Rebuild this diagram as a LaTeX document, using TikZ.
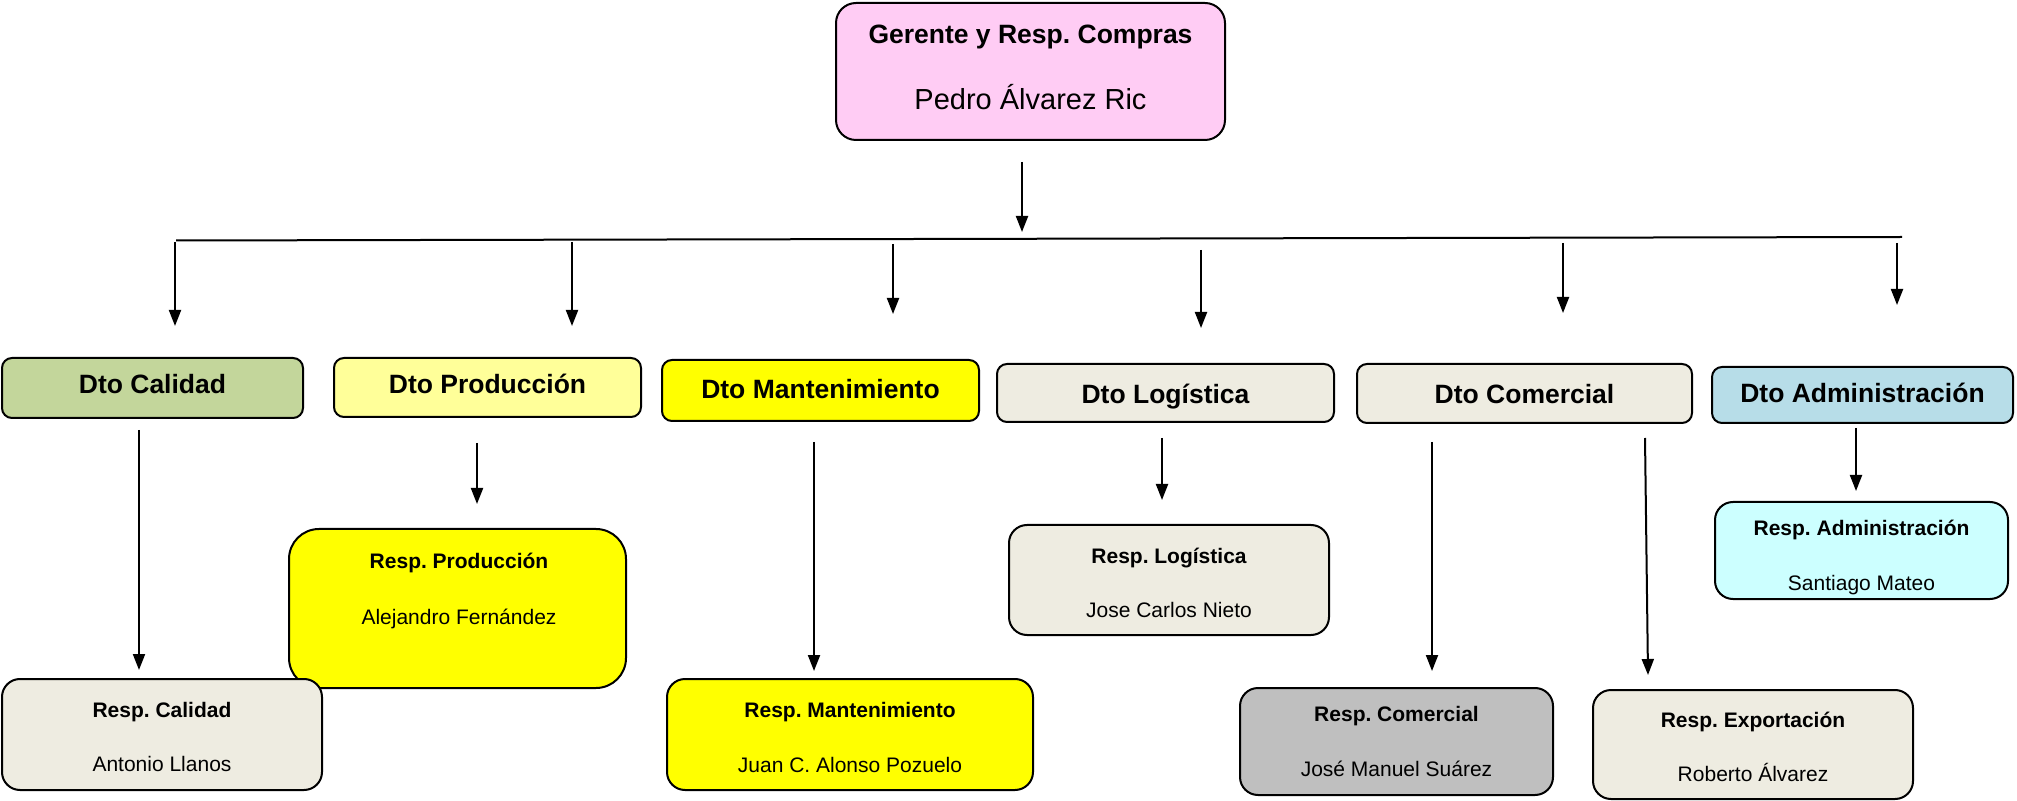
\documentclass[tikz,border=0pt]{standalone}
\usepackage{fontspec}
\setmainfont{Liberation Sans}
\usetikzlibrary{arrows.meta,fit}
\definecolor{cpink}{HTML}{FFCCF4}
\definecolor{cgreen}{HTML}{C3D69B}
\definecolor{clyel}{HTML}{FFFF99}
\definecolor{cyel}{HTML}{FFFF00}
\definecolor{cbeige}{HTML}{EEECE1}
\definecolor{cblue}{HTML}{B7DDE8}
\definecolor{cgray}{HTML}{BFBFBF}
\definecolor{ccyan}{HTML}{CCFFFF}
\frenchspacing
\begin{document}
\begin{tikzpicture}[x=0.5pt,y=-0.5pt,
  bx/.style={draw=black, line width=1pt, inner sep=0pt},
  dto/.style={bx, rounded corners=5pt},
  resp/.style={bx, rounded corners=9pt},
  hd/.style={font=\bfseries\fontsize{13.25}{15}\selectfont, anchor=base, inner sep=0pt},
  big/.style={font=\fontsize{14.5}{17}\selectfont, anchor=base, inner sep=0pt},
  rp/.style={font=\bfseries\fontsize{10.5}{12}\selectfont, anchor=base, inner sep=0pt},
  nm/.style={font=\fontsize{10.5}{12}\selectfont, anchor=base, inner sep=0pt},
  arr/.style={line width=1pt, -{Triangle[width=6pt,length=8pt]}},
  ln/.style={line width=1pt}]
\useasboundingbox (0,0) rectangle (2017,801);

% top box
\node[bx, rounded corners=10pt, fill=cpink, fit={(836,3) (1225,140)}] (top) {};
\node[hd] (topT) at (1030.5,44) {Gerente y Resp. Compras};
\node[big] (topN) at (1030.5,109.5) {Pedro Álvarez Ric};

% department boxes
\node[dto, fill=cgreen, fit={(2,358) (303,418)}] (cal) {};
\node[hd] (calT) at (152.5,394) {Dto Calidad};
\node[dto, fill=clyel, fit={(334,358) (641,417)}] (prod) {};
\node[hd] (prodT) at (487.5,394) {Dto Producción};
\node[dto, fill=cyel, fit={(662,360) (979,421)}] (mant) {};
\node[hd] (mantT) at (820.5,399) {Dto Mantenimiento};
\node[dto, fill=cbeige, fit={(997,364) (1334,422)}] (log) {};
\node[hd] (logT) at (1165.5,404) {Dto Logística};
\node[dto, fill=cbeige, fit={(1357,364) (1692,423)}] (com) {};
\node[hd] (comT) at (1524.5,404) {Dto Comercial};
\node[dto, fill=cblue, fit={(1712,367) (2013,423)}] (adm) {};
\node[hd] (admT) at (1862.5,403) {Dto Administración};

% responsible boxes
\node[bx, rounded corners=15pt, fill=cyel, fit={(289,529) (626,688)}] (rprod) {};
\node[rp] (rprodT) at (459,568.5) {Resp. Producción};
\node[nm] (rprodN) at (459,624.5) {Alejandro Fernández};
\node[resp, fill=cbeige, fit={(2,679) (322,790)}] (rcal) {};
\node[rp] (rcalT) at (162,717.5) {Resp. Calidad};
\node[nm] (rcalN) at (162,771.5) {Antonio Llanos};
\node[resp, fill=cyel, fit={(667,679) (1033,790)}] (rmant) {};
\node[rp] (rmantT) at (850,717) {Resp. Mantenimiento};
\node[nm] (rmantN) at (850,772.6) {Juan C. Alonso Pozuelo};
\node[resp, fill=cbeige, fit={(1009,525) (1329,635)}] (rlog) {};
\node[rp] (rlogT) at (1169,563) {Resp. Logística};
\node[nm] (rlogN) at (1169,617) {Jose Carlos Nieto};
\node[resp, fill=cgray, fit={(1240,688) (1553,795)}] (rcom) {};
\node[rp] (rcomT) at (1396.5,721) {Resp. Comercial};
\node[nm] (rcomN) at (1396.5,776.5) {José Manuel Suárez};
\node[resp, fill=cbeige, fit={(1593,690) (1913,799)}] (rexp) {};
\node[rp] (rexpT) at (1753,727.5) {Resp. Exportación};
\node[nm] (rexpN) at (1753,781.6) {Roberto Álvarez};
\node[resp, fill=ccyan, fit={(1715,502) (2008,599)}] (radm) {};
\node[rp] (radmT) at (1861.5,536) {Resp. Administración};
\node[nm] (radmN) at (1861.5,590) {Santiago Mateo};

% connector coordinates
\coordinate (t1) at (1022,162);
\coordinate (t2) at (1022,232);
\coordinate (h1) at (176,240.5);
\coordinate (h2) at (1902,237);
\coordinate (d1a) at (175,242);  \coordinate (d1b) at (175,326);
\coordinate (d2a) at (572,242);  \coordinate (d2b) at (572,326);
\coordinate (d3a) at (893,244);  \coordinate (d3b) at (893,314);
\coordinate (d4a) at (1201,250); \coordinate (d4b) at (1201,328);
\coordinate (d5a) at (1563,243); \coordinate (d5b) at (1563,313);
\coordinate (d6a) at (1897,243); \coordinate (d6b) at (1897,305);
\coordinate (s1a) at (139,430);  \coordinate (s1b) at (139,670);
\coordinate (s2a) at (477,443);  \coordinate (s2b) at (477,504);
\coordinate (s3a) at (814,442);  \coordinate (s3b) at (814,671);
\coordinate (s4a) at (1162,438); \coordinate (s4b) at (1162,500);
\coordinate (s5a) at (1432,442); \coordinate (s5b) at (1432,671);
\coordinate (s6a) at (1645,438); \coordinate (s6b) at (1648,675);
\coordinate (s7a) at (1856,428); \coordinate (s7b) at (1856,491);

\draw[arr] (t1) -- (t2);
\draw[ln] (h1) -- (h2);
\foreach \i in {1,...,6} {\draw[arr] (d\i a) -- (d\i b);}
\foreach \i in {1,...,7} {\draw[arr] (s\i a) -- (s\i b);}
\end{tikzpicture}
\end{document}
